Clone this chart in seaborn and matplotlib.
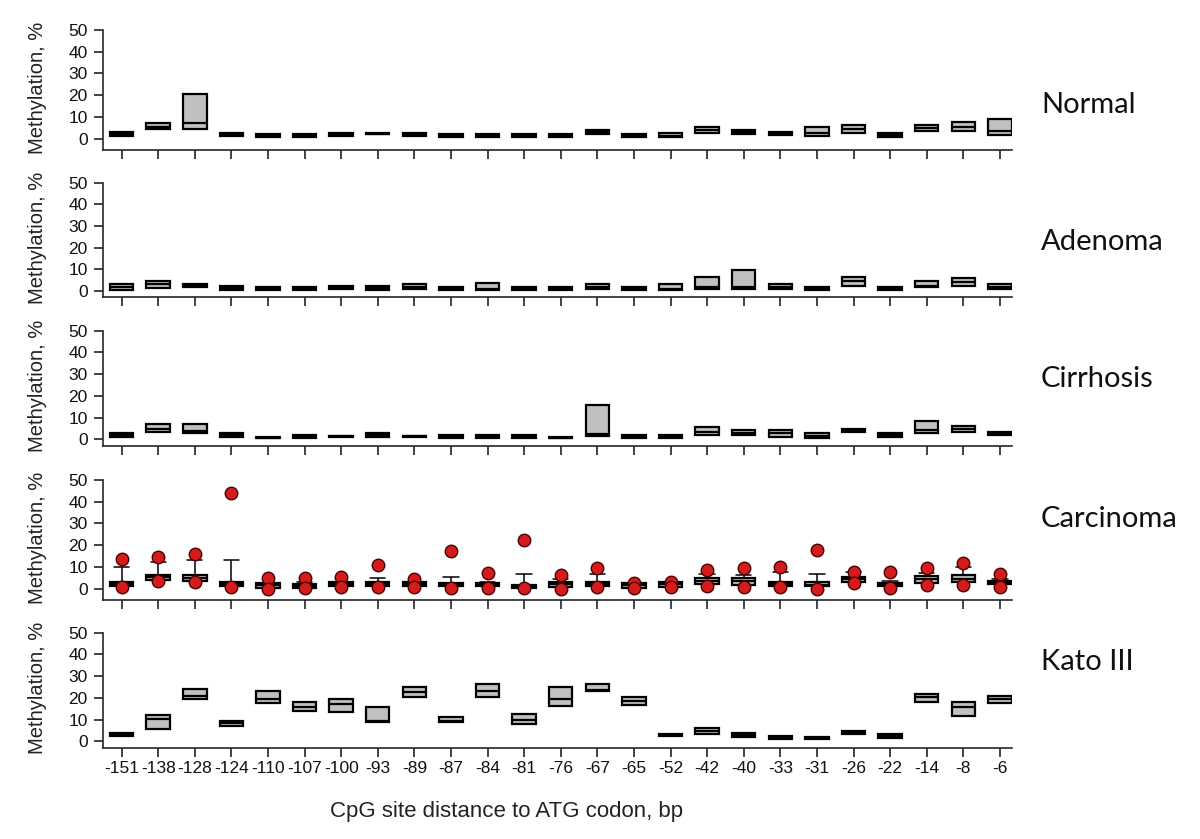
import numpy as np
import pandas as pd
import matplotlib
matplotlib.use("Agg")
import matplotlib.pyplot as plt
import seaborn as sns

# CpG sites (distance to ATG codon, bp)
sites = ["-151", "-138", "-128", "-124", "-110", "-107", "-100", "-93", "-89", "-87",
         "-84", "-81", "-76", "-67", "-65", "-52", "-42", "-40", "-33", "-31",
         "-26", "-22", "-14", "-8", "-6"]

panels = ["Normal", "Adenoma", "Cirrhosis", "Carcinoma", "Kato III"]

# box statistics (methylation, %)
normal_q1 = [1.3, 4.5, 4.3, 1.2, 0.6, 0.6, 1.2, 2.0, 1.2, 0.6, 0.6, 0.6, 0.6,
             2.0, 0.6, 0.6, 2.8, 2.0, 1.8, 1.2, 2.8, 0.6, 3.5, 3.5, 1.8]
normal_med = [2.3, 5.5, 7.0, 1.8, 1.2, 1.2, 2.0, 2.3, 2.0, 1.2, 1.2, 1.2, 1.2,
              3.0, 1.2, 1.3, 3.8, 3.0, 2.5, 2.5, 4.5, 1.5, 5.0, 5.5, 3.5]
normal_q3 = [3.3, 7.0, 20.4, 2.5, 2.0, 2.0, 2.8, 2.5, 2.8, 2.0, 2.0, 2.0, 2.0,
             4.0, 2.0, 2.4, 5.5, 4.0, 3.3, 5.5, 6.3, 2.5, 6.3, 7.5, 9.2]

adenoma_q1 = [0.6, 1.6, 1.8, 0.3, 0.3, 0.3, 0.8, 0.3, 0.9, 0.3, 0.3, 0.3, 0.5,
              0.9, 0.3, 0.3, 0.9, 0.9, 0.9, 0.3, 2.5, 0.3, 1.8, 2.5, 0.8]
adenoma_med = [2.0, 3.2, 2.5, 1.5, 1.0, 1.0, 1.6, 1.5, 2.0, 1.0, 0.8, 1.0, 1.2,
               2.0, 1.0, 0.8, 2.0, 2.0, 2.0, 1.0, 4.6, 1.0, 2.2, 4.3, 2.0]
adenoma_q3 = [3.1, 4.6, 3.1, 2.5, 1.7, 1.7, 2.5, 2.5, 3.1, 1.7, 3.7, 1.7, 2.0,
              3.1, 1.7, 3.1, 6.6, 9.7, 3.1, 1.7, 6.6, 1.7, 4.6, 6.0, 3.1]

cirrhosis_q1 = [1.3, 3.2, 2.8, 1.2, 0.5, 0.5, 1.2, 1.2, 1.1, 0.5, 0.5, 0.5, 0.5,
                1.5, 0.5, 0.5, 2.0, 2.0, 1.2, 0.5, 3.6, 1.2, 2.8, 3.2, 2.0]
cirrhosis_med = [2.0, 5.0, 3.8, 2.0, 0.8, 1.2, 1.4, 2.0, 1.4, 1.2, 1.2, 1.2, 0.8,
                 2.3, 1.2, 1.2, 3.5, 3.0, 2.8, 1.5, 4.3, 2.0, 4.3, 5.0, 2.6]
cirrhosis_q3 = [2.8, 7.1, 7.1, 2.8, 1.2, 2.0, 1.7, 2.8, 1.7, 2.0, 2.0, 2.0, 1.2,
                15.8, 2.0, 2.0, 5.5, 4.3, 4.3, 2.8, 5.0, 2.8, 8.6, 6.3, 3.2]

carcinoma_q1 = [1.4, 4.0, 3.5, 1.4, 0.5, 0.5, 1.4, 1.4, 1.4, 1.4, 1.4, 0.5, 0.9,
                1.4, 0.5, 0.9, 2.0, 1.7, 1.4, 1.4, 3.2, 1.4, 2.5, 2.9, 2.2]
carcinoma_med = [2.3, 5.2, 5.0, 2.2, 1.5, 1.2, 2.3, 2.3, 2.3, 2.0, 2.0, 1.0, 2.0,
                 2.3, 1.5, 2.0, 3.5, 3.5, 2.3, 1.7, 4.5, 2.0, 4.3, 4.6, 2.9]
carcinoma_q3 = [3.2, 6.3, 6.3, 3.2, 2.5, 2.2, 3.2, 3.2, 3.2, 2.5, 2.8, 1.7, 2.9,
                3.2, 2.5, 2.9, 4.8, 4.8, 3.2, 3.2, 5.5, 2.8, 5.8, 6.5, 3.6]
carcinoma_cap = [10.0, 12.2, 13.0, 13.0, 2.5, 3.2, 3.2, 4.8, 3.2, 5.5, 3.2, 6.8, 4.5,
                 6.8, 2.5, 3.2, 6.8, 6.3, 7.5, 6.8, 7.5, 3.7, 7.4, 10.0, 4.6]
carcinoma_dot_hi = [13.5, 14.5, 16.0, 44.0, 4.8, 4.8, 5.5, 11.0, 4.3, 17.5, 7.0, 22.5, 6.3,
                    9.4, 2.8, 3.2, 8.6, 9.4, 10.2, 17.8, 7.8, 7.8, 9.7, 12.0, 6.8]
carcinoma_dot_lo = [1.0, 3.7, 3.2, 1.0, 0.0, 0.2, 1.0, 1.0, 1.0, 0.2, 0.5, 0.2, 0.0,
                    1.0, 0.5, 0.9, 1.2, 1.0, 1.0, 0.0, 2.5, 0.5, 1.7, 1.7, 1.0]

kato_q1 = [2.7, 5.7, 19.4, 7.2, 17.8, 14.2, 13.4, 8.8, 20.6, 8.8, 20.6, 8.0, 16.3,
           23.0, 16.8, 2.6, 3.4, 1.9, 1.1, 1.1, 3.4, 1.7, 18.3, 11.7, 17.5]
kato_med = [3.3, 10.3, 21.0, 8.3, 19.5, 15.7, 17.2, 9.2, 22.5, 9.6, 23.4, 10.0, 19.5,
            23.8, 18.4, 2.9, 4.9, 2.9, 1.7, 1.4, 4.0, 2.4, 20.2, 15.8, 19.4]
kato_q3 = [4.0, 12.2, 24.0, 9.4, 23.2, 18.0, 19.4, 16.0, 24.8, 11.0, 26.3, 12.6, 24.8,
           26.3, 20.3, 3.2, 6.3, 4.0, 2.5, 1.8, 4.8, 3.2, 21.8, 18.0, 21.0]

box_stats = {
    "Normal": (normal_q1, normal_med, normal_q3, normal_q3),
    "Adenoma": (adenoma_q1, adenoma_med, adenoma_q3, adenoma_q3),
    "Cirrhosis": (cirrhosis_q1, cirrhosis_med, cirrhosis_q3, cirrhosis_q3),
    "Carcinoma": (carcinoma_q1, carcinoma_med, carcinoma_q3, carcinoma_cap),
    "Kato III": (kato_q1, kato_med, kato_q3, kato_q3),
}

# five-number groups per site: min, q1, median, q3, max -> exact quartiles
rows = []
for p in panels:
    q1, med, q3, hi = box_stats[p]
    for s, a, b, c, d in zip(sites, q1, med, q3, hi):
        for v in (a, a, b, c, d):
            rows.append({"panel": p, "site": s, "value": v})
df = pd.DataFrame(rows)

dots = pd.DataFrame({
    "site": sites + sites,
    "value": carcinoma_dot_hi + carcinoma_dot_lo,
})

sns.set_style("ticks")
plt.rcParams["font.family"] = ["Liberation Sans", "DejaVu Sans"]

fig = plt.figure(figsize=(12, 8.39), dpi=100)

# axes rectangles in pixels: (top of 50, x-axis line)
ax_px = [(30, 150), (182.7, 297.3), (330.7, 445.7), (480, 600), (632.7, 747.7)]
label_y = [105, 242, 379, 519, 662]
left, right = 103.3, 1012

for i, p in enumerate(panels):
    top, bot = ax_px[i]
    ax = fig.add_axes([left / 1200, 1 - bot / 839, (right - left) / 1200, (bot - top) / 839])
    sub = df[df["panel"] == p]
    sns.boxplot(data=sub, x="site", y="value", order=sites, whis=(0, 100),
                width=0.64, color="#c0c0c0", linecolor="black", linewidth=1.6,
                showcaps=(p == "Carcinoma"), capwidths=0.42,
                whiskerprops={"linewidth": 1.1}, capprops={"linewidth": 1.1},
                ax=ax)
    if p == "Carcinoma":
        sns.stripplot(data=dots, x="site", y="value", order=sites, jitter=False,
                      color="#d41c1c", edgecolor="#4a0000", linewidth=1.0,
                      size=9, zorder=4, ax=ax)
    bottom = -5.2 if (bot - top) > 118 else -2.9
    ax.set_ylim(bottom, 50)
    ax.set_xlim(-0.5, 24.33)
    ax.set_yticks(np.arange(0, 51, 10))
    sns.despine(ax=ax)
    for sp in ax.spines.values():
        sp.set_linewidth(1.2)
    ax.tick_params(axis="y", length=6.8, width=1.1, labelsize=12.5, pad=4.5, colors="#111")
    ax.tick_params(axis="x", length=6.5, width=1.1, labelsize=12.5, pad=3, colors="#111")
    ax.set_xlabel("")
    ax.set_ylabel("Methylation, %", fontsize=14.5, color="#222")
    ax.yaxis.set_label_coords(-0.062, 0.52)
    if i < len(panels) - 1:
        ax.set_xticklabels([])
    fig.text(1041 / 1200, 1 - label_y[i] / 839, p, family=["Lato", "DejaVu Sans"],
             fontsize=21, ha="left", va="center", color="#111")

fig.text(507 / 1200, 1 - 812 / 839, "CpG site distance to ATG codon, bp",
         fontsize=16, ha="center", va="center", color="#222")

fig.savefig("out.png", dpi=100)
